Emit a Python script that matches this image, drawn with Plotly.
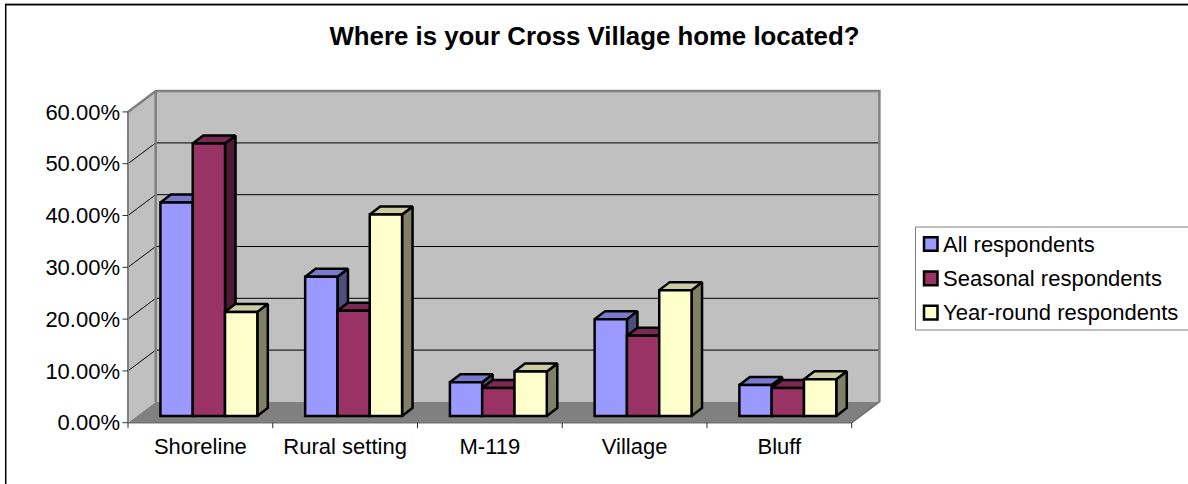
import plotly.graph_objects as go

categories = ["Shoreline", "Rural setting", "M-119", "Village", "Bluff"]
all_resp = [41.2, 26.9, 6.5, 18.7, 6.0]
seasonal = [52.6, 20.3, 5.4, 15.5, 5.4]
year_round = [20.1, 38.9, 8.6, 24.3, 7.1]
y_ticks = [0, 10, 20, 30, 40, 50, 60]
y_tick_labels = ["0.00%", "10.00%", "20.00%", "30.00%", "40.00%", "50.00%", "60.00%"]
series_names = ["All respondents", "Seasonal respondents", "Year-round respondents"]

W, H = 1188, 484
FONT = "Liberation Sans, Arial, sans-serif"
L, R, T, B = 121, 881, 89, 429
X0, Y0 = 128.0, 422.7
PX_CAT, PX_PCT = 144.74, 5.18


def ux(px):
    return px / PX_CAT


def uy(px):
    return px / PX_PCT


def px_x(px):
    return (px - L) / (R - L)


def px_y(px):
    return (B - px) / (B - T)


xr = [-0.5 - ux(X0 - L), -0.5 + ux(R - X0)]
yr = [-uy(B - Y0), uy(Y0 - T)]
x_left, x_right = -0.5, 4.5
wall_dx, wall_dy = ux(27.7), uy(20.8)
bar_w = ux(32.3)
bar_shift = ux(8.5)
base = uy(6.7)
dep_x, dep_y = ux(10.5), uy(8)

fronts = ["#9999FF", "#993366", "#FFFFCC"]
tops = ["#7A7ACC", "#7A2952", "#CCCCA3"]
sides = ["#4D4D80", "#4D1A33", "#808066"]
WALL, FLOOR, EDGE = "#C0C0C0", "#808080", "#808080"

fig = go.Figure()


def seg_trace(xs, ys, color, width, z):
    fig.add_trace(go.Scatter(x=xs, y=ys, mode="lines", line=dict(color=color, width=width),
                             hoverinfo="skip", showlegend=False, zorder=z))


# gridlines on the back and side walls
gx, gy = [], []
for v in y_ticks[1:-1]:
    gx += [x_left, x_left + wall_dx, x_right + wall_dx, None]
    gy += [v, v + wall_dy, v + wall_dy, None]
seg_trace(gx, gy, "#000000", 1, -5)

# walls' outline
seg_trace([x_left, x_left + wall_dx, x_right + wall_dx, x_right + wall_dx],
          [y_ticks[-1], y_ticks[-1] + wall_dy, y_ticks[-1] + wall_dy, wall_dy], EDGE, 2.5, -4)
seg_trace([x_left + wall_dx, x_left + wall_dx], [wall_dy, y_ticks[-1] + wall_dy], EDGE, 2.5, -4)
seg_trace([x_left, x_left], [0, y_ticks[-1]], EDGE, 2, -4)
seg_trace([x_left, x_right, x_right + wall_dx], [0, 0, wall_dy], "#707070", 1.5, -4)

# tick marks
tx, ty = [], []
for v in y_ticks:
    tx += [x_left - ux(5.5), x_left, None]
    ty += [v, v, None]
for i in range(len(categories) + 1):
    tx += [x_left + i, x_left + i, None]
    ty += [0, -uy(5.5), None]
seg_trace(tx, ty, "#303030", 1, -3)

for s, vals in enumerate([all_resp, seasonal, year_round]):
    xs = [i + bar_shift + (s - 1.5) * bar_w for i in range(len(categories))]
    sx, sy, px_, py_ = [], [], [], []
    for x, v in zip(xs, vals):
        top = base + v
        r = x + bar_w
        sx += [r, r + dep_x, r + dep_x, r, r, None]
        sy += [base, base + dep_y, top + dep_y, top, base, None]
        px_ += [x, x + dep_x, r + dep_x, r, x, None]
        py_ += [top, top + dep_y, top + dep_y, top, top, None]
    for a, b, col in ((sx, sy, sides[s]), (px_, py_, tops[s])):
        fig.add_trace(go.Scatter(x=a, y=b, mode="lines", fill="toself", fillcolor=col,
                                 line=dict(color="#000000", width=2.5), hoverinfo="skip",
                                 showlegend=False, zorder=2 * s))
    fig.add_trace(go.Bar(x=[x + bar_w / 2 for x in xs], y=vals, base=base, width=bar_w,
                         name=series_names[s], showlegend=False,
                         marker=dict(color=fronts[s], line=dict(color="#000000", width=2.5)),
                         zorder=2 * s + 1))

shapes = [
    # outer frame: a grey hairline above a black top edge, and a black left edge
    dict(type="line", xref="paper", yref="paper", x0=px_x(5), x1=px_x(W), y0=px_y(3.5), y1=px_y(3.5),
         line=dict(color="#A0A0A0", width=1), layer="below"),
    dict(type="line", xref="paper", yref="paper", x0=px_x(5), x1=px_x(W), y0=px_y(4.8), y1=px_y(4.8),
         line=dict(color="#000000", width=1.5), layer="below"),
    dict(type="line", xref="paper", yref="paper", x0=px_x(5.7), x1=px_x(5.7), y0=px_y(4.5), y1=px_y(H),
         line=dict(color="#000000", width=1.5), layer="below"),
    # back wall
    dict(type="rect", xref="x", yref="y", x0=x_left + wall_dx, x1=x_right + wall_dx, y0=wall_dy,
         y1=y_ticks[-1] + wall_dy, fillcolor=WALL, line_width=0, layer="below"),
    # side wall
    dict(type="path", xref="x", yref="y", layer="below", fillcolor=WALL, line_width=0,
         path=f"M{x_left},0 L{x_left + wall_dx},{wall_dy} L{x_left + wall_dx},{y_ticks[-1] + wall_dy} L{x_left},{y_ticks[-1]} Z"),
    # floor
    dict(type="path", xref="x", yref="y", layer="below", fillcolor=FLOOR, line_width=0,
         path=f"M{x_left},0 L{x_left + wall_dx},{wall_dy} L{x_right + wall_dx},{wall_dy} L{x_right},0 Z"),
    # legend box
    dict(type="rect", xref="paper", yref="paper", x0=px_x(915.5), x1=px_x(W + 2), y0=px_y(227), y1=px_y(330),
         line=dict(color="#808080", width=1), fillcolor="#FFFFFF", layer="below"),
]

# legend entries, one swatch and one label per series
annotations = []
for s, (name, cy) in enumerate(zip(series_names, (244.0, 278.4, 312.6))):
    shapes.append(dict(type="rect", xref="paper", yref="paper", x0=px_x(924), x1=px_x(937.5),
                       y0=px_y(cy - 6.8), y1=px_y(cy + 6.8), fillcolor=fronts[s],
                       line=dict(color="#000000", width=2.5), layer="above"))
    annotations.append(dict(xref="paper", yref="paper", x=px_x(940.5), y=px_y(cy), text=name,
                            showarrow=False, xanchor="left", yanchor="middle", xshift=0,
                            font=dict(family=FONT, size=22, color="#000000")))

fig.update_layout(
    width=W, height=H, autosize=False,
    margin=dict(l=L, r=W - R, t=T, b=H - B, pad=0, autoexpand=False),
    paper_bgcolor="#FFFFFF", plot_bgcolor="rgba(0,0,0,0)",
    font=dict(family=FONT, color="#000000", size=22),
    barmode="overlay", shapes=shapes, annotations=annotations, showlegend=False,
    title=dict(text="<b>Where is your Cross Village home located?</b>", x=594.5 / W, xanchor="center",
               xref="container", y=1 - 36 / H, yanchor="middle", yref="container",
               font=dict(family=FONT, size=25.8, color="#000000")),
    xaxis=dict(range=xr, tickmode="array", tickvals=list(range(len(categories))), ticktext=categories,
               showgrid=False, zeroline=False, showline=False, ticks="", ticklabelstandoff=2,
               tickfont=dict(size=22)),
    yaxis=dict(range=yr, tickmode="array", tickvals=y_ticks, ticktext=y_tick_labels,
               showgrid=False, zeroline=False, showline=False, ticks="", tickfont=dict(size=22)),
)

fig.write_html("out.html", post_script="document.body.style.margin='0';",
               config={"displayModeBar": False})
